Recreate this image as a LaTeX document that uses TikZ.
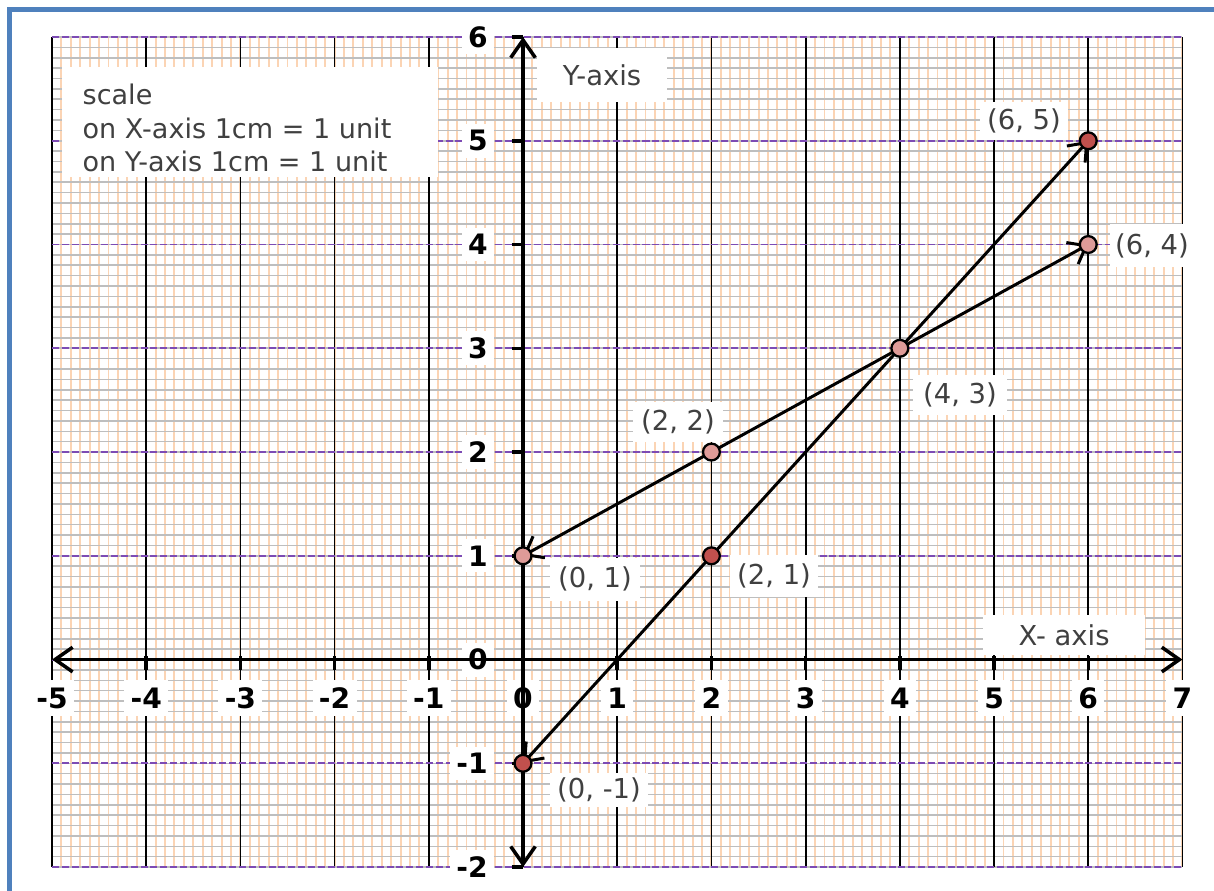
\documentclass[tikz,border=0pt]{standalone}
\usepackage{fontspec}
\setmainfont{DejaVu Sans}
\usetikzlibrary{arrows.meta}

\definecolor{frameblue}{RGB}{79,129,189}
\definecolor{minororange}{RGB}{251,212,180}
\definecolor{minorgray}{RGB}{190,190,190}
\definecolor{majorpurple}{RGB}{125,75,180}
\definecolor{labelgray}{RGB}{64,64,64}
\definecolor{ptred}{RGB}{192,80,77}
\definecolor{ptpink}{RGB}{222,155,152}

\begin{document}
\begin{tikzpicture}[x=0.942cm, y=1.0375cm,
    minorv/.style={minororange, line width=0.55pt},
    minorh/.style={minorgray, line width=0.45pt},
    majorv/.style={black, line width=0.5pt},
    majorh/.style={majorpurple, line width=0.55pt, dash pattern=on 2pt off 0.8pt},
    mainaxis/.style={line width=1pt, {Straight Barb[length=5pt,width=7pt]}-{Straight Barb[length=5pt,width=7pt]}},
    axistick/.style={line width=1pt},
    linegraph/.style={line width=0.85pt, {Straight Barb[length=4.5pt,width=7pt]}-{Straight Barb[length=4.5pt,width=7pt]}},
    numlabel/.style={fill=white, inner sep=1.8pt, font=\fontsize{8}{9}\selectfont\bfseries},
    ptlabel/.style={fill=white, inner sep=0pt, text=labelgray, font=\fontsize{7.8}{9}\selectfont},
    ptdot/.style={circle, draw=black, line width=0.65pt, inner sep=0pt, minimum size=4.8pt}
  ]
    \useasboundingbox (-5.552,-2.222) rectangle (7.335,6.357);
    \clip (-5.552,-2.222) rectangle (7.335,6.357);
    \fill[white] (-5.552,-2.222) rectangle (7.335,6.357);

    % Marc blau
    \draw[frameblue, line width=1.2pt] (-5.451,-2.4) -- (-5.451,6.265) -- (7.5,6.265);

    % Paper mil·limetrat
    \foreach \i in {-50,...,70} \draw[minorv] (\i/10,-2) -- (\i/10,6);
    \foreach \j in {-20,...,60} \draw[minorh] (-5,\j/10) -- (7,\j/10);
    \foreach \i in {-5,...,7} \draw[majorv] (\i,-2) -- (\i,6);
    \foreach \j in {-2,...,6} \draw[majorh] (-5,\j) -- (7,\j);

    % Escala
    \fill[white] (-4.894,4.651) rectangle (-0.90,5.710);
    \node[anchor=north west, inner sep=0pt, align=left, text=labelgray,
          font=\fontsize{7.7}{9.4}\selectfont] (scaletext) at (-4.682,5.55)
          {scale\\on X-axis 1cm = 1 unit\\on Y-axis 1cm = 1 unit};

    % Noms dels eixos
    \node[ptlabel, minimum width=1.30cm, minimum height=0.54cm] (ylab) at (0.839,5.634) {Y-axis};
    \node[ptlabel, minimum width=1.62cm, minimum height=0.40cm] (xlab) at (5.743,0.236) {X- axis};

    % Etiquetes dels punts
    \node[ptlabel, minimum width=0.88cm, minimum height=0.38cm] (l65) at (5.318,5.190) {(6, 5)};
    \node[ptlabel, minimum width=0.85cm, minimum height=0.43cm] (l64) at (6.677,3.986) {(6, 4)};
    \node[ptlabel, minimum width=0.94cm, minimum height=0.40cm] (l43) at (4.639,2.549) {(4, 3)};
    \node[ptlabel, minimum width=0.90cm, minimum height=0.40cm] (l22) at (1.645,2.289) {(2, 2)};
    \node[ptlabel, minimum width=0.88cm, minimum height=0.42cm] (l21) at (2.665,0.805) {(2, 1)};
    \node[ptlabel, minimum width=0.90cm, minimum height=0.43cm] (l01) at (0.764,0.776) {(0, 1)};
    \node[ptlabel, minimum width=0.98cm, minimum height=0.34cm] (lm1) at (0.807,-1.253) {(0, -1)};

    % Numeros dels eixos
    \foreach \i in {-5,...,7} \node[numlabel, minimum height=0.36cm] (xn\i) at (\i,-0.371) {\i};
    \foreach \j in {-2,...,6} \node[numlabel, anchor=east] (yn\j) at (-0.30,\j) {\j};

    % Eixos
    \coordinate (xleft) at (-5,0);
    \coordinate (xright) at (7,0);
    \coordinate (ybottom) at (0,-2);
    \coordinate (ytop) at (0,6);
    \draw[mainaxis] (xleft) -- (xright);
    \draw[mainaxis] (ybottom) -- (ytop);
    \foreach \i in {-4,...,6} \draw[axistick] (\i,0.03) -- (\i,-0.1);
    \foreach \j in {-2,...,6} \draw[axistick] (-0.12,\j) -- (0,\j);

    % Rectes
    \coordinate (pm1) at (0,-1);
    \coordinate (p21) at (2,1);
    \coordinate (p43) at (4,3);
    \coordinate (p65) at (6,5);
    \coordinate (p01) at (0,1);
    \coordinate (p22) at (2,2);
    \coordinate (p64) at (6,4);
    \draw[linegraph] (pm1) -- (p65);
    \draw[linegraph] (p01) -- (p64);

    % Punts
    \node[ptdot, fill=ptred] (dm1) at (pm1) {};
    \node[ptdot, fill=ptred] (d21) at (p21) {};
    \node[ptdot, fill=ptpink] (d43) at (p43) {};
    \node[ptdot, fill=ptred] (d65) at (p65) {};
    \node[ptdot, fill=ptpink] (d01) at (p01) {};
    \node[ptdot, fill=ptpink] (d22) at (p22) {};
    \node[ptdot, fill=ptpink] (d64) at (p64) {};
\end{tikzpicture}
\end{document}
